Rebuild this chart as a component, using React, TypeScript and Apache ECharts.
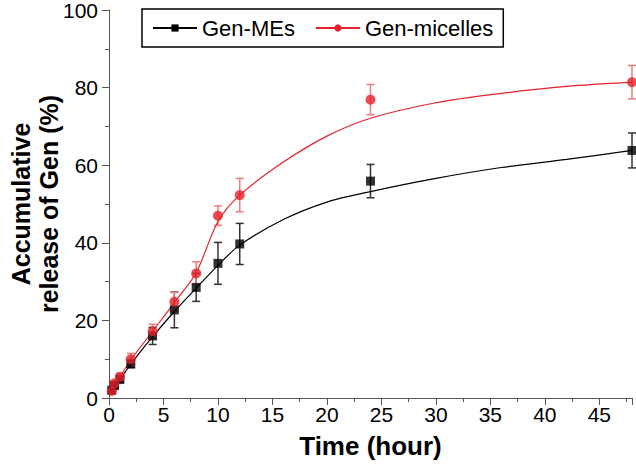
import React, { useEffect, useRef } from "react";
import * as echarts from "echarts";

// Measured time points (hours)
const times = [0.25, 0.5, 1, 2, 4, 6, 8, 10, 12, 24, 48];
// Gen-MEs measured release (%) and SD
const mesValues = [2.0, 3.2, 4.8, 8.8, 16.0, 22.7, 28.5, 34.7, 39.7, 55.9, 63.8];
const mesErrors = [0.5, 0.6, 0.8, 1.0, 2.2, 4.6, 3.6, 5.4, 5.3, 4.3, 4.5];
// Gen-micelles measured release (%) and SD
const micValues = [1.8, 3.8, 5.5, 10.0, 17.2, 24.8, 32.1, 47.0, 52.3, 76.9, 81.4];
const micErrors = [0.5, 0.6, 0.8, 1.5, 1.8, 2.4, 3.0, 2.5, 4.3, 3.9, 4.3];

// Fitted curves
const mesFitT = [0.25, 1, 2, 4, 6, 8, 10, 12, 16, 20, 24, 30, 36, 42, 48];
const mesFitV = [2.0, 4.8, 8.7, 15.8, 22.3, 28.3, 34.2, 39.4, 46.0, 50.5, 53.2, 56.6, 59.4, 61.5, 63.8];
const micFitT = [0.25, 1, 2, 4, 6, 8, 10, 12, 16, 20, 24, 30, 36, 42, 48];
const micFitV = [1.8, 5.4, 9.8, 17.2, 24.6, 32.3, 45.5, 52.3, 60.8, 67.5, 72.1, 76.1, 78.5, 80.3, 81.4];

const seriesNames = ["Gen-MEs", "Gen-micelles"];
const xTicks = { min: 0, max: 48, interval: 5 };
const yTicks = { min: 0, max: 100, interval: 20 };

const BLACK = "#000000";
const RED = "#e3212a";
const FONT = "'Liberation Sans', Arial, Helvetica, sans-serif";

function errorBarSeries(values: number[], errors: number[], color: string) {
  return {
    type: "custom",
    silent: true,
    z: 1,
    data: times.map((t, i) => [t, values[i], errors[i]]),
    encode: { x: 0, y: 1 },
    renderItem: (_params: any, api: any) => {
      const x = api.value(0);
      const y = api.value(1);
      const e = api.value(2);
      const top = api.coord([x, y + e]);
      const bot = api.coord([x, y - e]);
      const hw = 4;
      const style = { stroke: color, lineWidth: 1.5 };
      return {
        type: "group",
        children: [
          { type: "line", shape: { x1: top[0], y1: top[1], x2: bot[0], y2: bot[1] }, style },
          { type: "line", shape: { x1: top[0] - hw, y1: top[1], x2: top[0] + hw, y2: top[1] }, style },
          { type: "line", shape: { x1: bot[0] - hw, y1: bot[1], x2: bot[0] + hw, y2: bot[1] }, style },
        ],
      };
    },
  };
}

export default function App() {
  const ref = useRef<HTMLDivElement>(null);
  useEffect(() => {
    if (!ref.current) return;
    const chart = echarts.init(ref.current, undefined, { renderer: "svg" });
    const axisCommon = {
      axisLine: { show: true, lineStyle: { color: "#555", width: 1 } },
      axisTick: { show: true, inside: false, length: 7, lineStyle: { color: "#555" } },
      minorTick: { show: true, splitNumber: 2, length: 4, lineStyle: { color: "#555" } },
      splitLine: { show: false },
    };
    chart.setOption({
      animation: false,
      backgroundColor: "#ffffff",
      textStyle: { fontFamily: FONT },
      grid: { left: 109, right: 4, top: 10, bottom: 69, containLabel: false, outerBoundsMode: "none" },
      legend: {
        data: seriesNames,
        left: 142,
        top: 9,
        orient: "horizontal",
        itemWidth: 44,
        itemHeight: 9,
        itemGap: 20,
        padding: [8, 10, 8, 10],
        borderColor: "#000",
        borderWidth: 1.5,
        textStyle: { fontSize: 22, color: "#000", fontFamily: FONT },
      },
      xAxis: {
        type: "value",
        min: xTicks.min,
        max: xTicks.max,
        interval: xTicks.interval,
        name: "Time (hour)",
        nameLocation: "middle",
        nameGap: 35,
        nameMoveOverlap: false,
        nameTextStyle: { fontSize: 26, fontWeight: "bold", color: "#000", fontFamily: FONT },
        axisLabel: { fontSize: 21, color: "#000", margin: 6, showMaxLabel: false, fontFamily: FONT },
        ...axisCommon,
      },
      yAxis: {
        type: "value",
        min: yTicks.min,
        max: yTicks.max,
        interval: yTicks.interval,
        name: "Accumulative\nrelease of Gen (%)",
        nameLocation: "middle",
        nameGap: 46,
        nameMoveOverlap: false,
        nameTextStyle: { fontSize: 25, fontWeight: "bold", color: "#000", lineHeight: 28, fontFamily: FONT },
        axisLabel: { fontSize: 21, color: "#000", margin: 11, fontFamily: FONT },
        ...axisCommon,
      },
      series: [
        {
          name: seriesNames[0],
          type: "line",
          data: mesFitT.map((t, i) => [t, mesFitV[i]]),
          smooth: 0.3,
          showSymbol: false,
          symbol: "rect",
          symbolSize: 9,
          lineStyle: { color: BLACK, width: 1.2 },
          itemStyle: { color: BLACK },
          z: 2,
        },
        {
          name: seriesNames[1],
          type: "line",
          data: micFitT.map((t, i) => [t, micFitV[i]]),
          smooth: 0.3,
          showSymbol: false,
          symbol: "circle",
          symbolSize: 9,
          lineStyle: { color: RED, width: 1.2 },
          itemStyle: { color: RED },
          z: 2,
        },
        errorBarSeries(mesValues, mesErrors, "#333333"),
        errorBarSeries(micValues, micErrors, "#ee7b80"),
        {
          name: "Gen-MEs points",
          type: "scatter",
          symbol: "rect",
          symbolSize: 9,
          data: times.map((t, i) => [t, mesValues[i]]),
          itemStyle: { color: BLACK },
          z: 3,
        },
        {
          name: "Gen-micelles points",
          type: "scatter",
          symbol: "circle",
          symbolSize: 10,
          data: times.map((t, i) => [t, micValues[i]]),
          itemStyle: { color: RED },
          z: 4,
        },
      ],
    });
    return () => chart.dispose();
  }, []);
  return <div ref={ref} style={{ width: 636, height: 467, position: "absolute", left: 0, top: 0 }} />;
}
